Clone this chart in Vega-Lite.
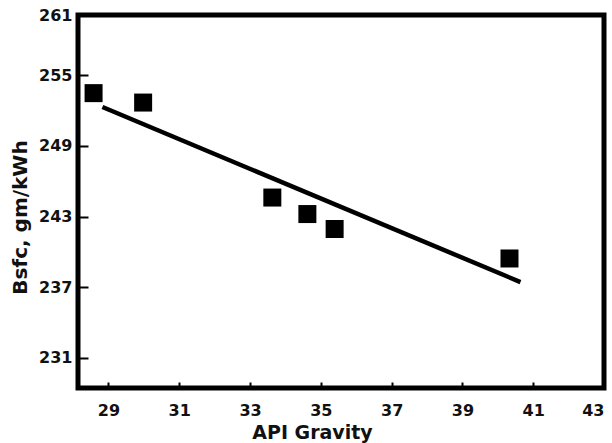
{
  "$schema": "https://vega.github.io/schema/vega-lite/v6.json",
  "width": 526,
  "height": 373,
  "autosize": {"type": "none"},
  "padding": {"left": 78, "top": 15, "right": 8, "bottom": 55},
  "background": "white",
  "config": {
    "view": {"stroke": "black", "strokeWidth": 5},
    "axis": {
      "domain": false,
      "grid": false,
      "labelFont": "DejaVu Sans",
      "labelFontWeight": "bold",
      "labelFontSize": 16,
      "labelColor": "#111111",
      "titleFont": "DejaVu Sans",
      "titleFontWeight": "bold",
      "titleColor": "#111111",
      "tickColor": "black",
      "tickWidth": 2
    }
  },
  "datasets": {
    "points": [
      {"api": 28.58, "bsfc": 253.47},
      {"api": 29.98, "bsfc": 252.67},
      {"api": 33.63, "bsfc": 244.61},
      {"api": 34.62, "bsfc": 243.21},
      {"api": 35.39, "bsfc": 241.94},
      {"api": 40.33, "bsfc": 239.44}
    ],
    "fit": [
      {"api": 28.83, "bsfc": 252.29},
      {"api": 40.64, "bsfc": 237.44}
    ]
  },
  "layer": [
    {
      "data": {"name": "fit"},
      "mark": {"type": "line", "color": "black", "strokeWidth": 4.5, "strokeCap": "butt"},
      "encoding": {
        "x": {"field": "api", "type": "quantitative"},
        "y": {"field": "bsfc", "type": "quantitative"}
      }
    },
    {
      "data": {"name": "points"},
      "mark": {"type": "point", "shape": "square", "filled": true, "color": "black", "opacity": 1, "size": 324},
      "encoding": {
        "x": {
          "field": "api",
          "type": "quantitative",
          "scale": {"domain": [28.14, 43], "nice": false, "zero": false},
          "axis": {
            "values": [29, 31, 33, 35, 37, 39, 41, 43],
            "tickSize": -6,
            "labelPadding": 20,
            "labelFlush": true,
            "title": "API Gravity",
            "titleFontSize": 19,
            "titleX": 234,
            "titleY": 35,
            "titleBaseline": "top",
            "titleAlign": "center",
            "titleAnchor": null
          }
        },
        "y": {
          "field": "bsfc",
          "type": "quantitative",
          "scale": {"domain": [228.45, 260.1], "nice": false, "zero": false},
          "axis": {
            "values": [231, 237, 243, 249, 255, 260.1],
            "labelExpr": "datum.value > 260 ? '261' : format(datum.value, 'd')",
            "tickSize": -10,
            "labelPadding": 16,
            "labelFlush": false,
            "title": "Bsfc, gm/kWh",
            "titleFontSize": 20,
            "titleAngle": -90,
            "titleX": -58,
            "titleY": 202,
            "titleBaseline": "middle",
            "titleAlign": "center",
            "titleAnchor": null
          }
        }
      }
    }
  ]
}
